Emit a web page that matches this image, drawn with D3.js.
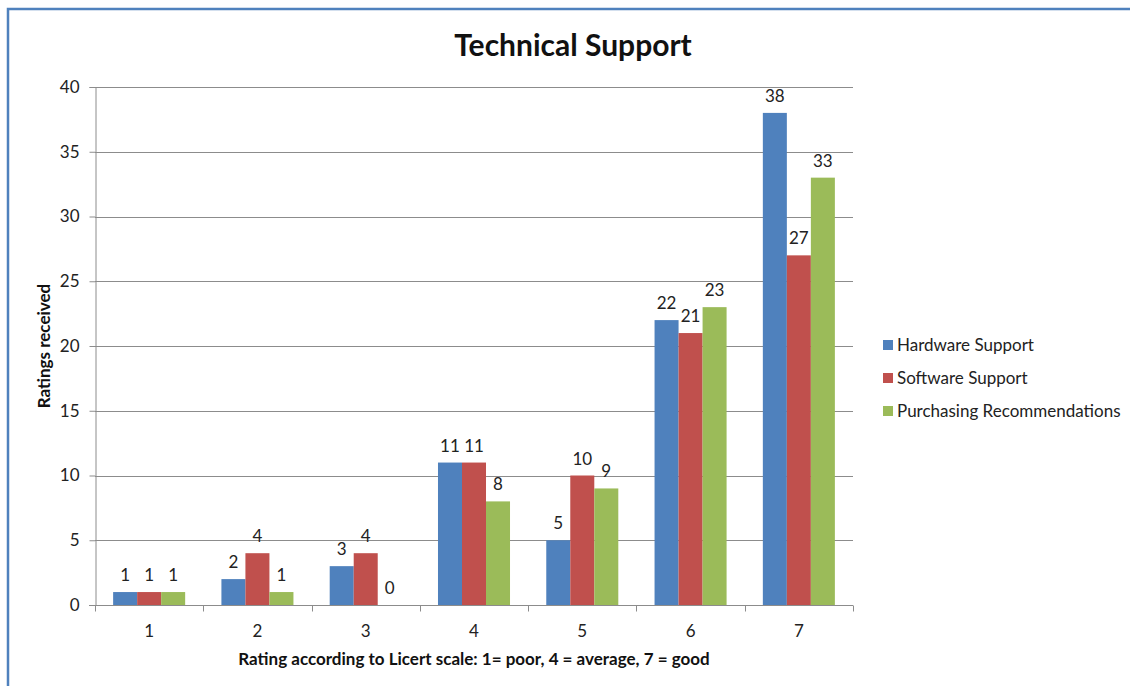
<!DOCTYPE html>
<html><head><meta charset="utf-8">
<script src="https://cdn.jsdelivr.net/npm/d3@7"></script>
<style>
html,body{margin:0;padding:0;background:#fff;}
svg{display:block;font-family:Lato,"Open Sans",sans-serif;}
</style></head>
<body><svg id="c" width="1130" height="686"></svg>
<script>
const categories = ["1","2","3","4","5","6","7"];
const seriesNames = ["Hardware Support","Software Support","Purchasing Recommendations"];
const hardware = [1,2,3,11,5,22,38];
const software = [1,4,4,11,10,21,27];
const purchasing = [1,1,0,8,9,23,33];
const yTicks = [0,5,10,15,20,25,30,35,40];
const colors = ["#4F81BD","#C0504D","#9BBB59"];

const seriesValues = [hardware, software, purchasing];
const svg = d3.select("#c");

// outer border
svg.append("path").attr("d","M8,700 L8,9 L1140,9").attr("fill","none").attr("stroke","#4F81BD").attr("stroke-width",2.5);

const L=95, R=853, T=87, B=605;
const x0 = d3.scaleBand().domain(categories).range([L,R]).padding(0);
const x1 = d3.scaleBand().domain(seriesNames).range([0,x0.bandwidth()]).paddingInner(0).paddingOuter(0.755);
const y = d3.scaleLinear().domain([0,40]).range([B,T]);

// gridlines
svg.append("g").selectAll("line").data(yTicks.filter(d=>d>0)).join("line")
  .attr("x1",L).attr("x2",R).attr("y1",d=>Math.round(y(d))+0.5).attr("y2",d=>Math.round(y(d))+0.5)
  .attr("stroke","#8c8c8c").attr("stroke-width",1);

// bars
const data = [];
categories.forEach((c,i)=>seriesNames.forEach((s,j)=>data.push({c,s,j,v:seriesValues[j][i]})));
svg.append("g").selectAll("rect").data(data).join("rect")
  .attr("x",d=>x0(d.c)+x1(d.s)).attr("width",x1.bandwidth())
  .attr("y",d=>y(d.v)).attr("height",d=>y(0)-y(d.v))
  .attr("fill",d=>colors[d.j]);

// y axis
const yAxis = d3.axisLeft(y).tickValues(yTicks).tickSize(6).tickPadding(10);
const gy = svg.append("g").attr("transform",`translate(${L+0.5},0)`).call(yAxis);
gy.select(".domain").attr("stroke","#8c8c8c");
gy.selectAll(".tick line").attr("stroke","#8c8c8c");
gy.selectAll(".tick text").attr("font-size",17).attr("fill","#222").attr("font-family","Lato,sans-serif");

// x axis
const gx = svg.append("g").attr("transform",`translate(0,${B+0.5})`);
gx.append("line").attr("x1",L-6).attr("x2",R).attr("stroke","#8c8c8c");
gx.selectAll("line.t").data(categories.concat(["end"])).join("line").attr("class","t")
  .attr("x1",(d,i)=>Math.round(L+i*x0.step())+0.5).attr("x2",(d,i)=>Math.round(L+i*x0.step())+0.5)
  .attr("y1",0).attr("y2",6).attr("stroke","#8c8c8c");
gx.selectAll("text").data(categories).join("text")
  .attr("x",d=>x0(d)+x0.bandwidth()/2).attr("y",31).attr("text-anchor","middle")
  .attr("font-size",17).attr("fill","#222").text(d=>d);

// data labels
svg.append("g").selectAll("text").data(data).join("text")
  .attr("x",d=>x0(d.c)+x1(d.s)+x1.bandwidth()/2).attr("y",d=>y(d.v)-11)
  .attr("text-anchor","middle").attr("font-size",17).attr("fill","#222").text(d=>d.v);

// title
svg.append("text").attr("x",573).attr("y",56).attr("text-anchor","middle")
  .attr("font-size",30).attr("font-weight","bold").attr("fill","#111").text("Technical Support");

// axis titles
svg.append("text").attr("transform","translate(50,346) rotate(-90)").attr("text-anchor","middle")
  .attr("font-size",17).attr("font-weight","bold").attr("fill","#111").text("Ratings received");
svg.append("text").attr("x",474).attr("y",665).attr("text-anchor","middle")
  .attr("font-size",17).attr("font-weight","bold").attr("fill","#111").text("Rating according to Licert scale: 1= poor, 4 = average, 7 = good");

// legend
const lg = svg.append("g").selectAll("g").data(seriesNames).join("g")
  .attr("transform",(d,i)=>`translate(883,${345+i*33})`);
lg.append("rect").attr("x",0).attr("y",-5).attr("width",10).attr("height",10).attr("fill",(d,i)=>colors[i]);
lg.append("text").attr("x",14).attr("y",6).attr("font-size",17).attr("fill","#222").text(d=>d);
</script></body></html>
